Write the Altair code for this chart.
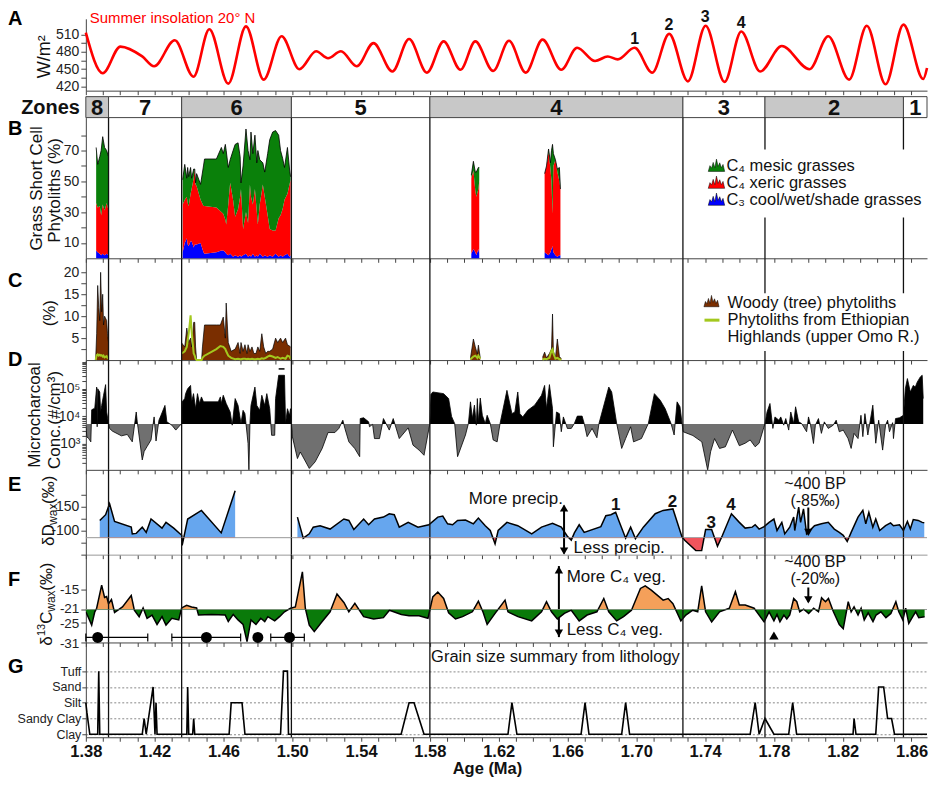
import altair as alt
import pandas as pd

FONT = "Liberation Sans"
W = 843

# ---------------- data ----------------
ZONES = [8, 7, 6, 5, 4, 3, 2, 1]
ZONE_BOUNDS = [1.38, 1.3932, 1.4357, 1.4995, 1.58, 1.7271, 1.7748, 1.8553, 1.869]

INS_AGE = [1.3800, 1.3898, 1.4001, 1.4128, 1.4197, 1.4317, 1.4426, 1.4518, 1.4628, 1.4731,
           1.4834, 1.4938, 1.5041, 1.5139, 1.5208, 1.5283, 1.5375, 1.5472, 1.5582, 1.5679,
           1.5783, 1.5880, 1.5978, 1.6064, 1.6168, 1.6260, 1.6357, 1.6455, 1.6564, 1.6656,
           1.6760, 1.6834, 1.6892, 1.6990, 1.7093, 1.7191, 1.7300, 1.7403, 1.7513, 1.7610,
           1.7720, 1.7846, 1.8007, 1.8116, 1.8237, 1.8340, 1.8449, 1.8553, 1.8668, 1.8690]
INS_VAL = [513, 443, 489, 472, 455, 500, 437, 519, 425, 524,
           432, 507, 450, 481, 469, 481, 455, 495, 446, 502,
           444, 498, 449, 498, 447, 499, 444, 501, 449, 487,
           464, 472, 467, 487, 444, 511, 429, 525, 428, 515,
           446, 490, 450, 507, 432, 525, 424, 527, 433, 452]
INS_PEAK_AGE = [1.699, 1.719, 1.740, 1.761]
INS_PEAK_VAL = [501.7, 525.8, 539.6, 529.6]
INS_PEAK_TXT = ["1", "2", "3", "4"]

# grass short cell phytoliths: (age, total %, top of C4 xeric %, C3 %)
B_ZONE8 = [(1.3860, 72, 36, 5), (1.3869, 61, 33, 4), (1.3881, 66, 34, 3), (1.3889, 70, 28, 2),
           (1.3898, 79, 35, 3), (1.3909, 72, 31, 2), (1.3921, 70, 36, 3), (1.3932, 66, 31, 2)]
B_ZONE6 = [(1.4363, 51, 35, 4), (1.4375, 61, 38, 10), (1.4387, 52, 40, 13), (1.4392, 59, 36, 9),
           (1.4398, 53, 34, 8), (1.4409, 59, 42, 11), (1.4415, 52, 45, 11), (1.4427, 58, 52, 7),
           (1.4433, 58, 58, 9), (1.4438, 49, 48, 9), (1.4444, 55, 47, 9), (1.4467, 48, 38, 10),
           (1.4484, 60, 34, 4), (1.4490, 64.5, 34, 3), (1.4559, 64.5, 33, 4), (1.4588, 72, 30, 5),
           (1.4599, 68, 29, 5), (1.4611, 74, 25, 4), (1.4616, 70, 22, 3), (1.4628, 59, 35, 2),
           (1.4639, 64, 49, 3), (1.4656, 70, 38, 1), (1.4668, 74, 27, 2), (1.4685, 75, 32, 1),
           (1.4697, 66, 40, 2), (1.4702, 49, 45, 1), (1.4714, 60, 19, 2), (1.4731, 84, 30, 3),
           (1.4743, 70, 23, 1), (1.4754, 64, 48, 2), (1.4760, 82, 40, 1), (1.4771, 68, 35, 3),
           (1.4783, 80, 45, 1), (1.4794, 62, 30, 2), (1.4800, 70, 22, 1), (1.4811, 64, 35, 3),
           (1.4829, 62, 48, 1), (1.4840, 56, 40, 2), (1.4857, 68, 28, 1), (1.4869, 77, 19, 2),
           (1.4886, 82, 18, 1), (1.4903, 83, 18, 3), (1.4921, 80, 26, 1), (1.4932, 70, 28, 2),
           (1.4944, 65, 32, 1), (1.4955, 59, 38, 2), (1.4972, 72, 42, 3), (1.4984, 58, 48, 1),
           (1.4990, 53, 51, 2)]
B_ZONE4A = [(1.6041, 54, 52, 3), (1.6053, 63, 57, 6), (1.6064, 56, 44, 4), (1.6070, 56, 40, 2),
            (1.6082, 59, 45, 6), (1.6087, 59, 50, 3)]
B_ZONE4B = [(1.6467, 55, 55, 4), (1.6478, 60, 60, 3), (1.6490, 71, 69, 2), (1.6501, 62, 58, 4),
            (1.6507, 70, 50, 6), (1.6513, 74, 29, 8), (1.6518, 68, 60, 4), (1.6530, 64, 64, 2),
            (1.6541, 58, 56, 1), (1.6553, 59, 50, 2), (1.6559, 45, 45, 2)]

# woody phytoliths % and Ethiopian highland phytoliths %: (age, woody, highlands)
C_ZONE8 = [(1.3857, 0, 0), (1.3863, 6, 1.1), (1.3869, 17, 1.3), (1.3875, 12, 1.0), (1.3881, 9, 1.2),
           (1.3886, 20, 1.0), (1.3892, 11, 1.1), (1.3898, 15, 0.8), (1.3903, 8, 1.0), (1.3909, 10, 0.6),
           (1.3921, 9, 0.9), (1.3926, 6, 0.5), (1.3932, 4, 0.3)]
C_ZONE6 = [(1.4357, 3.9, 1.5), (1.4375, 3.0, 2.0), (1.4387, 7.3, 3.0), (1.4398, 4.0, 6.0),
           (1.4409, 5.0, 10.2), (1.4415, 3.0, 6.5), (1.4427, 8.6, 1.5), (1.4433, 8.6, 1.0),
           (1.4438, 3.0, 0.3), (1.4444, 0, 0), (1.4473, 0, 0), (1.4478, 3.0, 0.5),
           (1.4490, 8.0, 1.0), (1.4559, 8.0, 2.5), (1.4582, 8.0, 3.2), (1.4599, 9.8, 3.0),
           (1.4611, 5.0, 2.5), (1.4616, 13.0, 2.0), (1.4628, 4.0, 1.0), (1.4645, 2.0, 0.5),
           (1.4668, 2.5, 0.2), (1.4685, 4.0, 0.3), (1.4697, 1.5, 0.2), (1.4702, 4.0, 0.2),
           (1.4714, 2.0, 0.3), (1.4725, 3.5, 0.3), (1.4737, 1.5, 0.2), (1.4743, 3.5, 0.3),
           (1.4754, 2.0, 0.2), (1.4766, 3.0, 0.3), (1.4777, 1.5, 0.2), (1.4789, 1.5, 0.2),
           (1.4800, 3.0, 0.3), (1.4811, 2.0, 0.2), (1.4823, 6.0, 0.4), (1.4834, 3.0, 0.3),
           (1.4846, 1.5, 0.5), (1.4857, 2.0, 0.8), (1.4869, 2.0, 1.0), (1.4886, 2.5, 0.8),
           (1.4903, 5.0, 0.5), (1.4915, 4.0, 0.7), (1.4932, 5.0, 0.3), (1.4944, 4.0, 0.5),
           (1.4961, 5.0, 0.3), (1.4972, 3.5, 1.0), (1.4984, 3.2, 0.8), (1.4990, 3.0, 0.3)]
C_ZONE4A = [(1.6036, 0.5, 0.2), (1.6053, 4.8, 0.8), (1.6064, 3.0, 1.0), (1.6076, 1.4, 0.5),
            (1.6082, 3.4, 1.0), (1.6093, 0.5, 0.3)]
C_ZONE4B = [(1.6455, 0.6, 0.1), (1.6467, 1.8, 0.3), (1.6478, 0.5, 0.2), (1.6495, 1.5, 0.5),
            (1.6507, 2.5, 2.2), (1.6513, 10.5, 2.5), (1.6518, 2.0, 1.5), (1.6530, 0.5, 0.3),
            (1.6541, 4.8, 0.5), (1.6553, 0.8, 0.2), (1.6564, 0.3, 0.1)]

# microcharcoal concentration, log10(#/cm3): (age, log10)
D_POINTS = [
    (1.3800, 3.68), (1.3806, 3.25), (1.3817, 3.19), (1.3829, 3.07), (1.3834, 4.24), (1.3852, 4.30),
    (1.3863, 5.07), (1.3866, 3.62), (1.3869, 5.01), (1.3881, 4.89), (1.3886, 4.16), (1.3892, 4.40),
    (1.3903, 4.77), (1.3915, 5.16), (1.3921, 4.16), (1.3932, 3.74),
    (1.3938, 3.56), (1.3955, 3.46), (1.4007, 3.29), (1.4041, 3.34), (1.4070, 3.07), (1.4093, 4.16),
    (1.4099, 3.80), (1.4128, 2.41), (1.4139, 2.72), (1.4156, 2.90), (1.4179, 3.14), (1.4197, 3.98),
    (1.4208, 3.10), (1.4225, 3.86), (1.4237, 4.04), (1.4260, 4.40), (1.4271, 3.80), (1.4300, 3.68),
    (1.4323, 3.50), (1.4340, 3.62), (1.4357, 3.74),
    (1.4360, 4.53), (1.4375, 4.65), (1.4380, 4.83), (1.4392, 5.01), (1.4409, 5.13), (1.4415, 4.53),
    (1.4426, 4.83), (1.4438, 4.28), (1.4449, 4.83), (1.4461, 4.47), (1.4472, 4.71), (1.4484, 4.53),
    (1.4570, 4.53), (1.4582, 4.71), (1.4587, 4.47), (1.4599, 4.77), (1.4616, 4.47), (1.4639, 4.16),
    (1.4651, 3.68), (1.4668, 4.65), (1.4685, 4.40), (1.4702, 3.74), (1.4714, 4.22), (1.4725, 4.10),
    (1.4731, 3.74), (1.4743, 3.01), (1.4748, 2.04), (1.4754, 3.74), (1.4760, 4.40), (1.4783, 5.07),
    (1.4794, 4.40), (1.4811, 4.22), (1.4823, 4.77), (1.4840, 4.40), (1.4852, 4.83), (1.4869, 4.28),
    (1.4880, 3.31), (1.4898, 3.31), (1.4903, 4.65), (1.4921, 5.50), (1.4955, 5.50), (1.4961, 3.74),
    (1.4972, 4.28), (1.4984, 4.04), (1.4990, 4.28), (1.4995, 3.74),
    (1.5001, 3.25), (1.5030, 2.46), (1.5047, 2.70), (1.5099, 2.10), (1.5133, 2.34), (1.5174, 2.83),
    (1.5208, 3.41), (1.5248, 3.41), (1.5271, 3.56), (1.5294, 3.86), (1.5306, 3.56), (1.5329, 3.07),
    (1.5363, 2.83), (1.5392, 2.53), (1.5395, 3.92), (1.5415, 3.95), (1.5444, 3.80), (1.5449, 3.62),
    (1.5467, 3.71), (1.5478, 3.19), (1.5507, 3.19), (1.5530, 3.92), (1.5564, 3.50), (1.5587, 3.92),
    (1.5622, 3.19), (1.5674, 3.58), (1.5702, 2.95), (1.5737, 2.77), (1.5766, 2.58), (1.5800, 3.74),
    (1.5806, 4.80), (1.5817, 4.89), (1.5880, 4.83), (1.5909, 4.65), (1.5926, 4.00), (1.5944, 3.74),
    (1.5961, 2.53), (1.6007, 3.32), (1.6024, 3.74), (1.6036, 4.53), (1.6047, 3.92), (1.6059, 4.41),
    (1.6070, 3.68), (1.6076, 4.65), (1.6082, 3.80), (1.6093, 4.67), (1.6105, 4.04), (1.6122, 3.74),
    (1.6133, 4.04), (1.6151, 3.74), (1.6168, 3.14), (1.6191, 3.07), (1.6208, 3.74), (1.6248, 4.95),
    (1.6277, 4.10), (1.6294, 4.16), (1.6311, 4.89), (1.6323, 4.10), (1.6340, 3.98), (1.6369, 4.22),
    (1.6409, 4.41), (1.6449, 4.77), (1.6467, 5.13), (1.6478, 4.28), (1.6495, 5.16), (1.6513, 4.28),
    (1.6518, 2.89), (1.6536, 4.16), (1.6553, 4.10), (1.6564, 3.44), (1.6576, 3.98), (1.6593, 3.68),
    (1.6599, 3.56), (1.6622, 3.56), (1.6640, 3.74), (1.6657, 4.01), (1.6685, 4.01), (1.6697, 3.74),
    (1.6714, 3.26), (1.6743, 3.56), (1.6771, 3.22), (1.6783, 3.74), (1.6840, 5.07), (1.6857, 4.89),
    (1.6886, 3.74), (1.6915, 2.83), (1.6938, 3.19), (1.6967, 3.62), (1.6984, 3.07), (1.7030, 3.19),
    (1.7070, 3.74), (1.7105, 4.83), (1.7139, 4.59), (1.7168, 4.28), (1.7202, 3.74), (1.7220, 3.32),
    (1.7237, 4.53), (1.7254, 4.35), (1.7266, 3.74),
    (1.7272, 3.44), (1.7329, 3.30), (1.7381, 3.07), (1.7415, 2.04), (1.7432, 2.71), (1.7455, 3.19),
    (1.7484, 2.83), (1.7518, 2.89), (1.7559, 3.50), (1.7599, 2.93), (1.7633, 3.02), (1.7662, 3.14),
    (1.7691, 2.89), (1.7714, 3.02), (1.7748, 3.74),
    (1.7760, 4.16), (1.7777, 4.47), (1.7794, 3.56), (1.7806, 3.98), (1.7829, 3.86), (1.7840, 3.98),
    (1.7857, 3.68), (1.7869, 3.92), (1.7886, 3.50), (1.7898, 4.16), (1.7915, 3.74), (1.7926, 4.35),
    (1.7944, 3.80), (1.7961, 3.74), (1.7990, 3.44), (1.8001, 3.98), (1.8013, 3.68), (1.8030, 3.01),
    (1.8041, 3.68), (1.8059, 3.92), (1.8076, 3.38), (1.8093, 3.80), (1.8116, 3.56), (1.8145, 3.68),
    (1.8162, 3.86), (1.8180, 3.44), (1.8203, 3.50), (1.8231, 3.19), (1.8249, 2.83), (1.8266, 3.38),
    (1.8289, 3.19), (1.8306, 4.04), (1.8317, 3.26), (1.8329, 4.10), (1.8346, 3.32), (1.8375, 4.41),
    (1.8392, 3.02), (1.8409, 3.86), (1.8432, 2.77), (1.8449, 3.68), (1.8461, 3.86), (1.8472, 3.44),
    (1.8490, 3.77), (1.8495, 3.19), (1.8507, 3.92), (1.8530, 3.95), (1.8553, 4.04),
    (1.8564, 5.01), (1.8576, 5.38), (1.8593, 4.89), (1.8610, 5.13), (1.8622, 5.07), (1.8633, 5.25),
    (1.8651, 5.44), (1.8662, 5.50), (1.8668, 4.65)]
D_MARK = [(1.4921, 1.4955, 540000)]
D_BASE = 5300

# dD wax (permil): (age, value)
E_SEG1 = [(1.3881, -121), (1.3915, -133), (1.3938, -156), (1.3967, -119), (1.4064, -107), (1.4070, -93),
          (1.4093, -94), (1.4128, -107), (1.4151, -96), (1.4179, -124), (1.4243, -105), (1.4266, -117),
          (1.4311, -105), (1.4357, -90), (1.4360, -69), (1.4392, -124), (1.4472, -142), (1.4587, -95),
          (1.4668, -183)]
E_SEG2 = [(1.5030, -128), (1.5064, -84), (1.5099, -93), (1.5122, -107), (1.5162, -110), (1.5220, -103),
          (1.5300, -124), (1.5329, -121), (1.5358, -102), (1.5415, -124), (1.5444, -112), (1.5478, -124),
          (1.5530, -128), (1.5564, -135), (1.5593, -133), (1.5622, -107), (1.5674, -117), (1.5731, -107),
          (1.5794, -112), (1.5846, -128), (1.5875, -130), (1.5903, -114), (1.5932, -112), (1.5961, -121),
          (1.6007, -122), (1.6053, -114), (1.6082, -126), (1.6122, -110), (1.6151, -100), (1.6179, -72),
          (1.6197, -100), (1.6248, -117), (1.6311, -110), (1.6392, -93), (1.6449, -107), (1.6513, -115),
          (1.6564, -107), (1.6599, -88), (1.6622, -80), (1.6640, -95), (1.6668, -112), (1.6697, -96),
          (1.6794, -108), (1.6823, -131), (1.6852, -133), (1.6880, -138), (1.6898, -121), (1.6938, -84),
          (1.6967, -107), (1.6995, -83), (1.7041, -107), (1.7110, -135), (1.7156, -142), (1.7213, -145),
          (1.7266, -86), (1.7283, -79), (1.7346, -58), (1.7380, -58), (1.7403, -102), (1.7438, -102),
          (1.7472, -67), (1.7501, -90), (1.7553, -135), (1.7599, -117), (1.7633, -105), (1.7674, -107),
          (1.7691, -112), (1.7714, -103), (1.7743, -108), (1.7772, -117), (1.7800, -124), (1.7818, -100),
          (1.7846, -117), (1.7863, -93), (1.7892, -107), (1.7915, -128), (1.7921, -100), (1.7944, -149),
          (1.7955, -117), (1.7972, -145), (1.7990, -93), (1.8036, -110), (1.8076, -114), (1.8116, -117),
          (1.8151, -103), (1.8180, -96), (1.8203, -90), (1.8226, -77), (1.8249, -96), (1.8289, -128),
          (1.8317, -142), (1.8334, -114), (1.8352, -138), (1.8375, -107), (1.8392, -124), (1.8415, -100),
          (1.8449, -110), (1.8478, -116), (1.8495, -110), (1.8530, -112), (1.8553, -100), (1.8576, -119),
          (1.8593, -103), (1.8610, -123), (1.8639, -121), (1.8662, -117), (1.8674, -116)]
E_BASE = -85
E_NUM_AGE = [1.688, 1.721, 1.7435, 1.755]
E_NUM_VAL = [-154, -160, -116, -154]
E_NUM_TXT = ["1", "2", "3", "4"]

# d13C wax (permil): (age, value)
F_POINTS = [
    (1.3800, -21.7), (1.3811, -23.0), (1.3834, -25.8), (1.3852, -21.7), (1.3863, -20.6),
    (1.3892, -13.5), (1.3909, -17.3), (1.3921, -17.0), (1.3932, -19.2), (1.3949, -17.9),
    (1.3967, -21.9), (1.4013, -20.2), (1.4064, -16.7), (1.4082, -21.2), (1.4110, -23.2),
    (1.4133, -20.5), (1.4156, -23.7), (1.4185, -22.7), (1.4214, -25.6), (1.4243, -23.2),
    (1.4266, -25.8), (1.4300, -23.7), (1.4340, -24.2), (1.4357, -20.5), (1.4386, -19.7),
    (1.4415, -20.2), (1.4444, -20.5), (1.4455, -22.7), (1.4530, -22.5), (1.4610, -22.7),
    (1.4628, -24.7), (1.4657, -22.5), (1.4685, -24.2), (1.4714, -25.6), (1.4737, -30.9),
    (1.4760, -24.2), (1.4789, -25.6), (1.4817, -23.7), (1.4840, -24.7), (1.4858, -23.2),
    (1.4898, -24.5), (1.4926, -23.2), (1.4955, -21.7), (1.4990, -20.6), (1.5018, -20.2),
    (1.5059, -9.4), (1.5076, -20.6), (1.5099, -25.8), (1.5128, -27.8), (1.5174, -24.7),
    (1.5220, -21.7), (1.5260, -16.2), (1.5301, -18.9), (1.5329, -21.7), (1.5364, -19.1),
    (1.5415, -23.2), (1.5473, -23.9), (1.5530, -23.5), (1.5565, -21.2), (1.5634, -22.5),
    (1.5679, -22.9), (1.5737, -22.9), (1.5789, -23.7), (1.5817, -17.1), (1.5846, -15.6),
    (1.5880, -17.6), (1.5909, -22.0), (1.5949, -23.9), (1.5990, -23.2), (1.6047, -21.7),
    (1.6082, -18.4), (1.6110, -21.9), (1.6133, -25.6), (1.6179, -22.2), (1.6237, -18.1),
    (1.6254, -21.7), (1.6312, -23.2), (1.6392, -24.5), (1.6449, -21.7), (1.6478, -18.6),
    (1.6507, -21.7), (1.6541, -23.9), (1.6582, -22.2), (1.6622, -21.2), (1.6668, -24.5),
    (1.6714, -22.7), (1.6771, -21.7), (1.6811, -17.6), (1.6840, -21.7), (1.6886, -24.5),
    (1.6926, -23.2), (1.6972, -21.2), (1.7024, -14.5), (1.7052, -13.7), (1.7087, -15.0),
    (1.7156, -18.1), (1.7185, -17.6), (1.7213, -19.2), (1.7259, -24.5), (1.7288, -22.7),
    (1.7328, -21.2), (1.7357, -21.7), (1.7380, -13.7), (1.7403, -21.7), (1.7438, -24.8),
    (1.7484, -21.7), (1.7541, -20.6), (1.7576, -15.5), (1.7599, -19.6), (1.7633, -19.6),
    (1.7685, -20.6), (1.7743, -24.8), (1.7772, -21.7), (1.7800, -24.5), (1.7818, -22.5),
    (1.7835, -24.8), (1.7858, -22.7), (1.7875, -23.9), (1.7892, -22.7), (1.7915, -17.6),
    (1.7933, -18.6), (1.7950, -21.7), (1.7973, -20.9), (1.8002, -22.2), (1.8031, -20.6),
    (1.8059, -21.7), (1.8077, -17.4), (1.8100, -18.6), (1.8117, -17.6), (1.8146, -21.7),
    (1.8180, -25.6), (1.8203, -26.9), (1.8232, -18.6), (1.8249, -21.7), (1.8266, -20.2),
    (1.8289, -22.7), (1.8307, -20.6), (1.8325, -24.2), (1.8348, -22.0), (1.8376, -24.7),
    (1.8394, -22.7), (1.8422, -21.7), (1.8451, -23.5), (1.8480, -22.2), (1.8509, -18.6),
    (1.8526, -21.7), (1.8549, -24.2), (1.8566, -20.6), (1.8584, -25.3), (1.8607, -23.2),
    (1.8624, -21.7), (1.8642, -23.5), (1.8676, -23.2)]
F_BASE = -21
DATE_AGE = [1.3869, 1.4501, 1.4800, 1.4984]
DATE_LO = [1.3800, 1.4300, 1.4800, 1.4875]
DATE_HI = [1.4160, 1.4700, 1.4800, 1.5070]
TRIANGLE_AGE = [1.780]

# grain size class (0 Clay, 1 Sandy Clay, 2 Silt, 3 Sand, 4 Tuff)
G_CLASSES = ["Clay", "Sandy Clay", "Silt", "Sand", "Tuff"]
G_AGE = [1.3800, 1.3806, 1.3823, 1.3869, 1.3875, 1.3881, 1.4128, 1.4139, 1.4151, 1.4191,
         1.4202, 1.4208, 1.4214, 1.4387, 1.4392, 1.4398, 1.4421, 1.4427, 1.4433, 1.4633,
         1.4645, 1.4708, 1.4725, 1.4932, 1.4949, 1.4972, 1.4978, 1.5633, 1.5679, 1.5708,
         1.5766, 1.6254, 1.6277, 1.6306, 1.6679, 1.6702, 1.6725, 1.6915, 1.6938, 1.6961,
         1.7662, 1.7691, 1.7714, 1.7748, 1.7800, 1.7886, 1.7909, 1.7932, 1.8260, 1.8266,
         1.8277, 1.8392, 1.8409, 1.8438, 1.8461, 1.8484, 1.8501, 1.8690]
G_CLASS = [2, 1.4, 0, 0, 4, 0, 0, 1, 0, 3,
           0, 2, 0, 0, 3, 0, 0, 1, 0, 0,
           2, 2, 0, 0, 4, 4, 0, 0, 2, 2,
           0, 0, 2, 0, 0, 2, 0, 0, 2, 0,
           0, 2, 0, 1, 0, 0, 2, 0, 0, 1,
           0, 0, 3, 3, 1, 1, 0, 0]

# ---------------- helpers ----------------
XS = alt.Scale(domain=[1.38, 1.869], nice=False, zero=False)
TICKS = [round(1.38 + 0.01 * i, 2) for i in range(49)]
MOUNTAIN = ("M -1 0.6 L -0.8 -0.1 L -0.6 0.2 L -0.4 -0.5 L -0.2 0.15 L 0 -0.9 "
            "L 0.2 0 L 0.4 -0.45 L 0.6 0.15 L 0.8 -0.25 L 1 0.6 Z")


def ax_plain(dc="#444"):
    return alt.Axis(values=TICKS, labels=False, title=None, tickSize=4, grid=False,
                    domainColor=dc, tickColor="#444", labelOverlap=False)


AX_BOTTOM = alt.Axis(values=TICKS,
                     labelExpr="round(datum.value*100) % 4 == 2 ? format(datum.value, '.2f') : ''",
                     title="Age (Ma)", labelFontSize=16.5, labelFontWeight="bold", titleFontSize=16.5,
                     titleFontWeight="bold", tickSize=4, labelPadding=2, titlePadding=1,
                     labelColor="#111", titleColor="#111", labelOverlap=False, labelFlush=False,
                     grid=False, domainColor="#444", tickColor="#444", titleX=402)


def yaxis(values, expr, **kw):
    base = dict(values=values, labelExpr=expr, title=None, tickSize=5, labelPadding=2,
                labelFontSize=14, labelOverlap=False, grid=False, labelColor="#222",
                domainColor="#444", tickColor="#444")
    base.update(kw)
    return alt.Axis(**base)


def one():
    return pd.DataFrame({"t": [""]})


def pix_text(text, x, y, size=17, **kw):
    return alt.Chart(pd.DataFrame({"t": [text]})).mark_text(font=FONT, fontSize=size, **kw).encode(
        x=alt.value(x), y=alt.value(y), text="t:N")


def letter(ch, y):
    return pix_text(ch, -78, y, size=20, fontWeight="bold", align="left")


def vtitle(text, x, y, size=17):
    return pix_text(text, x, y, size=size, angle=270, color="#111")


def zone_rules(h, xaxis):
    return alt.Chart(pd.DataFrame({"b": ZONE_BOUNDS[1:-1]})).mark_rule(color="#111", strokeWidth=1.3).encode(
        x=alt.X("b:Q", scale=XS, axis=xaxis), y=alt.value(0), y2=alt.value(h))


def white_box(x, x2, y, y2):
    return alt.Chart(one()).mark_rect(color="white").encode(
        x=alt.value(x), x2=alt.value(x2), y=alt.value(y), y2=alt.value(y2))


def hline(y, color="#999"):
    return alt.Chart(one()).mark_rule(color=color, strokeWidth=1).encode(
        x=alt.value(0), x2=alt.value(W), y=alt.value(y))


# ---------------- panel A ----------------
A_H = 72
YA = alt.Scale(domain=[412.9, 537.0], nice=False, zero=False)
AXA = yaxis([420, 435, 450, 465, 480, 495, 510], "datum.value % 30 == 0 ? datum.label : ''")
xa = ax_plain()
ins_df = pd.DataFrame({"age": INS_AGE, "v": INS_VAL})
peak_df = pd.DataFrame({"age": INS_PEAK_AGE, "v": INS_PEAK_VAL, "t": INS_PEAK_TXT})
pA = alt.layer(
    alt.Chart(ins_df).mark_line(color="#ff0000", strokeWidth=2.6, interpolate="monotone").encode(
        x=alt.X("age:Q", scale=XS, axis=xa), y=alt.Y("v:Q", scale=YA, axis=AXA)),
    alt.Chart(peak_df).mark_text(font=FONT, fontSize=16, fontWeight="bold", color="#111").encode(
        x=alt.X("age:Q", scale=XS, axis=xa), y=alt.Y("v:Q", scale=YA, axis=AXA), text="t:N"),
    pix_text("Summer insolation 20° N", 4, -1, size=15, color="#ff0000", align="left"),
    vtitle("W/m²", -41, 38, size=18),
    letter("A", 0.5),
).properties(width=W, height=A_H)

# ---------------- zones ----------------
Z_H = 27
zdf = pd.DataFrame({"zone": ZONES, "start": ZONE_BOUNDS[:-1], "end": ZONE_BOUNDS[1:]})
pZ = alt.layer(
    alt.Chart(zdf).mark_rect(stroke="#444", strokeWidth=1).encode(
        x=alt.X("start:Q", scale=XS, axis=None), x2="end:Q", y=alt.value(6), y2=alt.value(Z_H),
        fill=alt.condition("datum.zone % 2 == 0", alt.value("#c8c8c8"), alt.value("#ffffff"))),
    alt.Chart(zdf).transform_calculate(mid="(datum.start + datum.end) / 2").mark_text(
        font=FONT, fontSize=22, fontWeight="bold", color="#111").encode(
        x=alt.X("mid:Q", scale=XS, axis=None), y=alt.value(17), text="zone:N"),
    pix_text("Zones", -6, 17, size=20, fontWeight="bold", align="right", color="#111"),
).properties(width=W, height=Z_H)

# ---------------- panel B ----------------
B_H = 141
rows = []
for seg, pts in [("z8", B_ZONE8), ("z6", B_ZONE6), ("z4a", B_ZONE4A), ("z4b", B_ZONE4B)]:
    for a, tot, xer, c3 in pts:
        rows.append({"age": a, "seg": seg, "tot": tot, "xer": xer, "c3": c3, "zero": 0})
bdf = pd.DataFrame(rows)
YB = alt.Scale(domain=[0, 91.4], nice=False, zero=False)
AXBy = yaxis([10, 20, 30, 40, 50, 60, 70, 80], "datum.value % 20 == 10 ? datum.label : ''")
xb = ax_plain()
XB = alt.X("age:Q", scale=XS, axis=xb)
leg_b = pd.DataFrame({"t": ["C₄ mesic grasses", "C₄ xeric grasses", "C₃ cool/wet/shade grasses"],
                      "c": ["#0a800a", "#ff0000", "#0000ff"]})
pB = alt.layer(
    alt.Chart(bdf).mark_area(color="#0000ff").encode(
        x=XB, y=alt.Y("c3:Q", scale=YB, axis=AXBy), y2="zero:Q", detail="seg:N"),
    alt.Chart(bdf).mark_area(color="#ff0000").encode(
        x=XB, y=alt.Y("xer:Q", scale=YB, axis=AXBy), y2="c3:Q", detail="seg:N"),
    alt.Chart(bdf).mark_area(color="#0a800a").encode(
        x=XB, y=alt.Y("tot:Q", scale=YB, axis=AXBy), y2="xer:Q", detail="seg:N"),
    alt.Chart(bdf).mark_line(color="#000", strokeWidth=0.8).encode(
        x=XB, y=alt.Y("tot:Q", scale=YB, axis=AXBy), detail="seg:N"),
    zone_rules(B_H, xb),
    white_box(612, W - 1, 32, 100),
    alt.Chart(leg_b).transform_window(i="row_number()").transform_calculate(yy="32 + 17 * datum.i").mark_point(
        shape=MOUNTAIN, filled=True, size=270, stroke="#000", strokeWidth=0.5, opacity=1).encode(
        x=alt.value(632), y=alt.Y("yy:Q", scale=None), fill=alt.Fill("c:N", scale=None)),
    alt.Chart(leg_b).transform_window(i="row_number()").transform_calculate(yy="32 + 17 * datum.i").mark_text(
        font=FONT, fontSize=16.5, align="left", color="#111").encode(
        x=alt.value(642), y=alt.Y("yy:Q", scale=None), text="t:N"),
    vtitle("Grass Short Cell", -49, 71),
    vtitle("Phytoliths (%)", -31, 73),
    letter("B", 11),
).properties(width=W, height=B_H)

# ---------------- panel C ----------------
C_H = 102
rows = []
for seg, pts in [("z8", C_ZONE8), ("z6", C_ZONE6), ("z4a", C_ZONE4A), ("z4b", C_ZONE4B)]:
    for a, wd, eth in pts:
        rows.append({"age": a, "seg": seg, "woody": wd, "eth": eth, "zero": 0})
cdf = pd.DataFrame(rows)
YC = alt.Scale(domain=[0, 23.2], nice=False, zero=False)
AXC = yaxis([2.5, 5, 7.5, 10, 12.5, 15, 17.5, 20], "datum.value % 5 == 0 ? datum.label : ''")
xc = ax_plain()
XC = alt.X("age:Q", scale=XS, axis=xc)
ETH = "#a3c81e"
pC = alt.layer(
    alt.Chart(cdf).mark_area(color="#7a2e00").encode(
        x=XC, y=alt.Y("woody:Q", scale=YC, axis=AXC), y2="zero:Q", detail="seg:N"),
    alt.Chart(cdf).mark_line(color="#000", strokeWidth=0.7).encode(
        x=XC, y=alt.Y("woody:Q", scale=YC, axis=AXC), detail="seg:N"),
    alt.Chart(cdf).mark_line(color=ETH, strokeWidth=2).encode(
        x=XC, y=alt.Y("eth:Q", scale=YC, axis=AXC), detail="seg:N"),
    zone_rules(C_H, xc),
    white_box(612, W - 1, 35, 93),
    alt.Chart(one()).mark_point(shape=MOUNTAIN, filled=True, size=230, fill="#7a2e00", stroke="#000",
                                strokeWidth=0.5, opacity=1).encode(x=alt.value(627), y=alt.value(44)),
    alt.Chart(one()).mark_rule(color=ETH, strokeWidth=3).encode(
        x=alt.value(620), x2=alt.value(635), y=alt.value(62)),
    pix_text("Woody (tree) phytoliths", 643, 45, size=16.5, align="left", color="#111"),
    pix_text("Phytoliths from Ethiopian", 643, 62, size=16.5, align="left", color="#111"),
    pix_text("Highlands (upper Omo R.)", 643, 79, size=16.5, align="left", color="#111"),
    vtitle("(%)", -36, 55),
    letter("C", 23),
).properties(width=W, height=C_H)

# ---------------- panel D (split at the reference level) ----------------
D1_H, D2_H = 64, 46
ddf = pd.DataFrame(D_POINTS, columns=["age", "lg"])
ddf["v"] = 10 ** ddf["lg"]
ddf["base"] = D_BASE
dmark = pd.DataFrame(D_MARK, columns=["a", "a2", "v"])
DT = [k * 10 ** e for e in (2, 3, 4, 5, 6) for k in range(1, 10)]
DEXPR = ("datum.value == 1000 ? '10³' : datum.value == 10000 ? '10⁴' : "
         "datum.value == 100000 ? '10⁵' : ''")
YD1 = alt.Scale(type="log", domain=[D_BASE, 1.135e6], nice=False)
YD2 = alt.Scale(type="log", domain=[112, D_BASE], nice=False)
AXD1 = yaxis(DT, DEXPR, tickSize=4)
AXD2 = yaxis(DT, DEXPR, tickSize=4)
XD1 = alt.X("age:Q", scale=XS, axis=None)
xd2 = ax_plain()
XD2 = alt.X("age:Q", scale=XS, axis=xd2)
pD1 = alt.layer(
    alt.Chart(ddf).mark_area(color="#000", clip=True).encode(
        x=XD1, y=alt.Y("v:Q", scale=YD1, axis=AXD1), y2="base:Q"),
    alt.Chart(ddf).mark_line(color="#000", strokeWidth=0.8, clip=True).encode(
        x=XD1, y=alt.Y("v:Q", scale=YD1, axis=AXD1)),
    alt.Chart(dmark).mark_rule(color="#000", strokeWidth=1.5).encode(
        x=alt.X("a:Q", scale=XS, axis=None), x2="a2:Q", y=alt.Y("v:Q", scale=YD1, axis=AXD1)),
    zone_rules(D1_H, None),
    vtitle("Microcharcoal", -51, 55),
    vtitle("Conc.(#/cm³)", -31, 60),
    letter("D", 0),
).properties(width=W, height=D1_H)
pD2 = alt.layer(
    alt.Chart(ddf).mark_area(color="#707070", clip=True).encode(
        x=XD2, y=alt.Y("v:Q", scale=YD2, axis=AXD2), y2="base:Q"),
    alt.Chart(ddf).mark_line(color="#000", strokeWidth=0.8, clip=True).encode(
        x=XD2, y=alt.Y("v:Q", scale=YD2, axis=AXD2)),
    zone_rules(D2_H, xd2),
).properties(width=W, height=D2_H)

# ---------------- panel E ----------------
E1_H, E2_H = 68, 17
rows = [{"age": a, "seg": "s1", "v": v, "base": E_BASE} for a, v in E_SEG1] + \
       [{"age": a, "seg": "s2", "v": v, "base": E_BASE} for a, v in E_SEG2]
edf = pd.DataFrame(rows)
YE1 = alt.Scale(domain=[-226.7, E_BASE], reverse=True, nice=False, zero=False)
YE2 = alt.Scale(domain=[E_BASE, -49.6], reverse=True, nice=False, zero=False)
AXE1 = yaxis([-175, -150, -125, -100], "datum.value == -150 ? '-150' : datum.value == -100 ? '-100' : ''")
AXE2 = yaxis([-75, -50], "''")
XE1 = alt.X("age:Q", scale=XS, axis=None)
xe2 = ax_plain("#999")
XE2 = alt.X("age:Q", scale=XS, axis=xe2)
enum_df = pd.DataFrame({"age": E_NUM_AGE, "v": E_NUM_VAL, "t": E_NUM_TXT})
e_txt = pd.DataFrame({"age": [1.630, 1.690], "v": [-166, -64], "t": ["More precip.", "Less precip."]})
e_txt2 = pd.DataFrame({"age": [1.804, 1.804], "v": [-198, -162], "t": ["~400 BP", "(-85‰)"]})
e_arrow = pd.DataFrame({"age": [1.658, 1.800], "v": [-152, -148], "v2": [-52, -92]})
e_heads = pd.DataFrame({"age": [1.658, 1.658, 1.800], "v": [-147, -57, -96],
                        "s": ["triangle-up", "triangle-down", "triangle-down"]})
pE1 = alt.layer(
    alt.Chart(edf).mark_area(color="#66a6ee", clip=True).encode(
        x=XE1, y=alt.Y("v:Q", scale=YE1, axis=AXE1), y2="base:Q", detail="seg:N"),
    alt.Chart(edf).mark_line(color="#000", strokeWidth=1.5, clip=True).encode(
        x=XE1, y=alt.Y("v:Q", scale=YE1, axis=AXE1), detail="seg:N"),
    zone_rules(E1_H, None),
    alt.Chart(e_txt).mark_text(font=FONT, fontSize=17, color="#111").encode(
        x=XE1, y=alt.Y("v:Q", scale=YE1, axis=AXE1), text="t:N"),
    alt.Chart(e_txt2).mark_text(font=FONT, fontSize=16, color="#111").encode(
        x=XE1, y=alt.Y("v:Q", scale=YE1, axis=AXE1), text="t:N"),
    alt.Chart(enum_df).mark_text(font=FONT, fontSize=17, fontWeight="bold", color="#111").encode(
        x=XE1, y=alt.Y("v:Q", scale=YE1, axis=AXE1), text="t:N"),
    alt.Chart(e_arrow).mark_rule(color="#000", strokeWidth=2).encode(
        x=XE1, y=alt.Y("v:Q", scale=YE1, axis=AXE1), y2="v2:Q"),
    alt.Chart(e_heads).mark_point(filled=True, color="#000", size=70, opacity=1).encode(
        x=XE1, y=alt.Y("v:Q", scale=YE1, axis=AXE1), shape=alt.Shape("s:N", scale=None)),
    pix_text("δD", -37, 65.5, size=17, angle=270, color="#111"),
    pix_text("wax", -33, 44.5, size=12, angle=270, color="#111"),
    pix_text("(‰)", -37, 20, size=17, angle=270, color="#111"),
    letter("E", 15),
).properties(width=W, height=E1_H)
pE2 = alt.layer(
    hline(0),
    alt.Chart(edf).mark_area(color="#f0545c", clip=True).encode(
        x=XE2, y=alt.Y("v:Q", scale=YE2, axis=AXE2), y2="base:Q", detail="seg:N"),
    alt.Chart(edf).mark_line(color="#000", strokeWidth=1.5, clip=True).encode(
        x=XE2, y=alt.Y("v:Q", scale=YE2, axis=AXE2), detail="seg:N"),
    zone_rules(E2_H, xe2),
).properties(width=W, height=E2_H)

# ---------------- panel F ----------------
F1_H, F2_H = 55, 33
fdf = pd.DataFrame(F_POINTS, columns=["age", "v"])
fdf["base"] = F_BASE
YF1 = alt.Scale(domain=[F_BASE, -4.08], nice=False, zero=False)
YF2 = alt.Scale(domain=[-31.15, F_BASE], nice=False, zero=False)
AXF1 = yaxis([-21, -15], "'-' + abs(datum.value)", labelFontSize=13.5, labelOffset=-1)
AXF2 = yaxis([-31, -25], "'-' + abs(datum.value)", labelFontSize=13.5, labelOffset=1.5)
XF1 = alt.X("age:Q", scale=XS, axis=None)
xf2 = ax_plain()
XF2 = alt.X("age:Q", scale=XS, axis=xf2)
f_txt_l = pd.DataFrame({"age": [1.6595, 1.6595], "v": [-11, -27.3], "t": ["More C₄ veg.", "Less C₄ veg."]})
f_txt_c = pd.DataFrame({"age": [1.804, 1.804], "v": [-6.2, -11.6], "t": ["~400 BP", "(-20‰)"]})
f_arrow = pd.DataFrame({"age": [1.655, 1.800], "v": [-7.6, -14.2], "v2": [-29.5, -18.6]})
f_heads = pd.DataFrame({"age": [1.655, 1.655, 1.800], "v": [-8.8, -28.3, -18.0],
                        "s": ["triangle-up", "triangle-down", "triangle-down"]})
date_df = pd.DataFrame({"age": DATE_AGE, "lo": DATE_LO, "hi": DATE_HI})
pF1 = alt.layer(
    alt.Chart(fdf).mark_area(color="#f5a05a", clip=True).encode(
        x=XF1, y=alt.Y("v:Q", scale=YF1, axis=AXF1), y2="base:Q"),
    alt.Chart(fdf).mark_line(color="#000", strokeWidth=1.5, clip=True).encode(
        x=XF1, y=alt.Y("v:Q", scale=YF1, axis=AXF1)),
    zone_rules(F1_H, None),
    alt.Chart(f_arrow).mark_rule(color="#000", strokeWidth=2).encode(
        x=XF1, y=alt.Y("v:Q", scale=YF1, axis=AXF1), y2="v2:Q"),
    alt.Chart(f_heads).mark_point(filled=True, color="#000", size=70, opacity=1).encode(
        x=XF1, y=alt.Y("v:Q", scale=YF1, axis=AXF1), shape=alt.Shape("s:N", scale=None)),
    alt.Chart(f_txt_l).mark_text(font=FONT, fontSize=17, align="left", color="#111").encode(
        x=XF1, y=alt.Y("v:Q", scale=YF1, axis=AXF1), text="t:N"),
    alt.Chart(f_txt_c).mark_text(font=FONT, fontSize=16, color="#111").encode(
        x=XF1, y=alt.Y("v:Q", scale=YF1, axis=AXF1), text="t:N"),
    pix_text("δ", -39, 86.5, size=17, angle=270, color="#111"),
    pix_text("13", -44, 75.5, size=11, angle=270, color="#111"),
    pix_text("C", -39, 63, size=17, angle=270, color="#111"),
    pix_text("wax", -35, 46.5, size=12, angle=270, color="#111"),
    pix_text("(‰)", -39, 22, size=17, angle=270, color="#111"),
    letter("F", 25),
).properties(width=W, height=F1_H)
pF2 = alt.layer(
    hline(0),
    alt.Chart(fdf).mark_area(color="#0a7a0a", clip=True).encode(
        x=XF2, y=alt.Y("v:Q", scale=YF2, axis=AXF2), y2="base:Q"),
    alt.Chart(fdf).mark_line(color="#000", strokeWidth=1.5, clip=True).encode(
        x=XF2, y=alt.Y("v:Q", scale=YF2, axis=AXF2)),
    zone_rules(F2_H, xf2),
    alt.Chart(date_df).mark_rule(color="#000", strokeWidth=1.2).encode(
        x=alt.X("lo:Q", scale=XS, axis=xf2), x2="hi:Q", y=alt.value(28)),
    alt.Chart(date_df).mark_rule(color="#000", strokeWidth=1.2).encode(
        x=alt.X("lo:Q", scale=XS, axis=xf2), y=alt.value(24), y2=alt.value(32)),
    alt.Chart(date_df).mark_rule(color="#000", strokeWidth=1.2).encode(
        x=alt.X("hi:Q", scale=XS, axis=xf2), y=alt.value(24), y2=alt.value(32)),
    alt.Chart(date_df).mark_point(filled=True, color="#000", size=120, opacity=1).encode(
        x=XF2, y=alt.value(28)),
    alt.Chart(pd.DataFrame({"age": TRIANGLE_AGE})).mark_point(
        shape="triangle-up", filled=True, color="#000", size=90, opacity=1).encode(
        x=XF2, y=alt.value(26)),
).properties(width=W, height=F2_H)

# ---------------- panel G ----------------
G_H = 95
gdf = pd.DataFrame({"age": G_AGE, "g": G_CLASS})
YG = alt.Scale(domain=[-0.19, 5.82], nice=False, zero=False)
AXG = yaxis([0, 1, 2, 3, 4], "['Clay','Sandy Clay','Silt','Sand','Tuff'][datum.value]",
            grid=True, gridDash=[2, 2], gridColor="#888", labelFontSize=12.5, tickSize=4,
            labelPadding=1)
XG = alt.X("age:Q", scale=XS, axis=AX_BOTTOM)
pG = alt.layer(
    alt.Chart(gdf).mark_line(color="#000", strokeWidth=1.6).encode(
        x=XG, y=alt.Y("g:Q", scale=YG, axis=AXG)),
    zone_rules(G_H, AX_BOTTOM),
    alt.Chart(pd.DataFrame({"age": [1.653], "g": [4.87], "t": ["Grain size summary from lithology"]})).mark_text(
        font=FONT, fontSize=16.5, color="#111").encode(
        x=XG, y=alt.Y("g:Q", scale=YG, axis=AXG), text="t:N"),
    letter("G", 25),
).properties(width=W, height=G_H)

chart = alt.vconcat(pA, pZ, pB, pC, pD1, pD2, pE1, pE2, pF1, pF2, pG,
                    spacing=0, bounds="flush").properties(padding=0).configure_view(
    stroke=None).configure_axis(labelFont=FONT, titleFont=FONT)

chart.save("out.html", embed_options={"renderer": "svg", "actions": False})
